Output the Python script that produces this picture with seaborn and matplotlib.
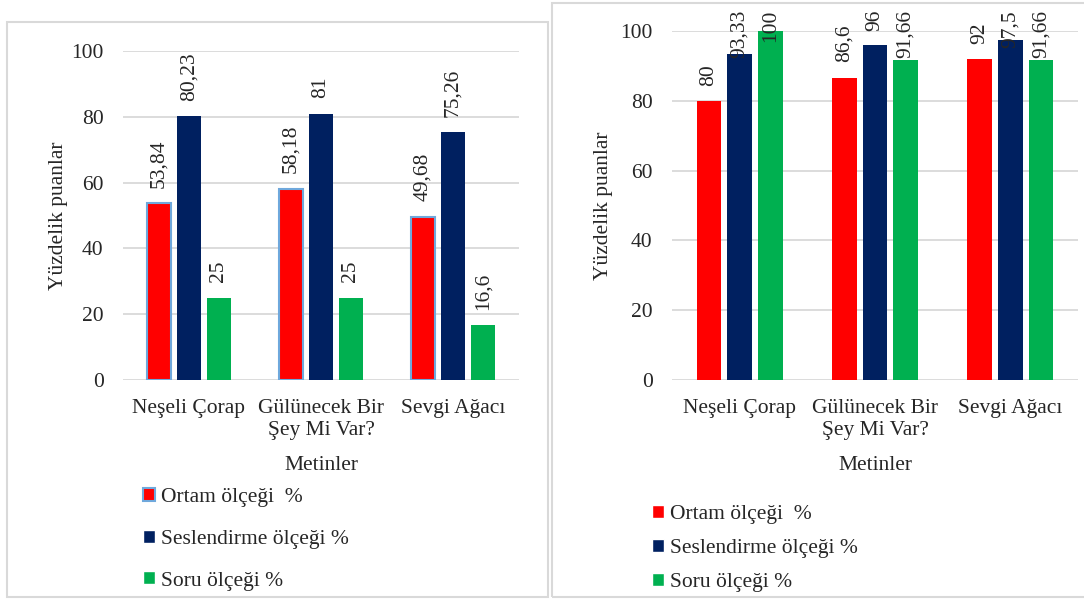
import matplotlib
matplotlib.use('Agg')
import matplotlib.pyplot as plt
from matplotlib.patches import Patch, Rectangle
import pandas as pd
import seaborn as sns

# categories and series
metinler = ['Neşeli Çorap', 'Gülünecek Bir\nŞey Mi Var?', 'Sevgi Ağacı']
olcekler = ['Ortam ölçeği  %', 'Seslendirme ölçeği %', 'Soru ölçeği %']
renkler = ['#FF0000', '#002060', '#00B050']

# left chart values
sol_ortam = [53.84, 58.18, 49.68]
sol_seslendirme = [80.23, 81, 75.26]
sol_soru = [25, 25, 16.6]

# right chart values
sag_ortam = [80, 86.6, 92]
sag_seslendirme = [93.33, 96, 97.5]
sag_soru = [100, 91.66, 91.66]

y_ticks = [0, 20, 40, 60, 80, 100]

sns.set_style('white')
plt.rcParams['font.family'] = ['Liberation Serif', 'DejaVu Serif']
FS = 15.5
GRID = '#D9D9D9'


def make_df(ortam, seslendirme, soru):
    rows = []
    for olcek, vals in zip(olcekler, [ortam, seslendirme, soru]):
        for m, v in zip(metinler, vals):
            rows.append({'Metin': m, 'Puan': v, 'Ölçek': olcek})
    return pd.DataFrame(rows)


def draw_panel(ax, df, red_edge, ylab_pad):
    sns.barplot(data=df, x='Metin', y='Puan', hue='Ölçek', hue_order=olcekler,
                palette=renkler, width=0.68, gap=0.2, linewidth=0,
                saturation=1, legend=False, ax=ax)
    ax.set_ylim(0, 100)
    ax.set_yticks(y_ticks)
    ax.yaxis.grid(True, color=GRID, lw=1.3)
    ax.set_axisbelow(True)
    for s in ax.spines.values():
        s.set_visible(False)
    ax.tick_params(axis='both', length=0, labelsize=FS)
    ax.tick_params(axis='y', pad=14)
    ax.tick_params(axis='x', pad=14)
    ax.set_xlabel('Metinler', fontsize=FS, labelpad=11)
    ax.set_ylabel('Yüzdelik puanlar', fontsize=FS, labelpad=ylab_pad)
    if red_edge:
        for bar in ax.containers[0]:
            bar.set_edgecolor('#6FA8DC')
            bar.set_linewidth(1.5)
    labels = []
    for cont in ax.containers:
        vals = cont.datavalues
        txt = [f'{v:g}'.replace('.', ',') for v in vals]
        labels += ax.bar_label(cont, labels=txt, padding=11, rotation=90,
                               fontsize=FS)
    return labels


fig = plt.figure(figsize=(10.84, 6.02), dpi=100)

# panel frames
fig.add_artist(Rectangle((7 / 1084, 5 / 602), 541 / 1084, 575 / 602,
                         transform=fig.transFigure, fill=False,
                         edgecolor=GRID, lw=1.5))
fig.add_artist(Rectangle((552 / 1084, 5 / 602), 540 / 1084, 594 / 602,
                         transform=fig.transFigure, fill=False,
                         edgecolor=GRID, lw=1.5))

ax1 = fig.add_axes([123 / 1084, 222 / 602, 396 / 1084, 329 / 602])
ax2 = fig.add_axes([672 / 1084, 222 / 602, 406 / 1084, 349 / 602])

draw_panel(ax1, make_df(sol_ortam, sol_seslendirme, sol_soru), True, 2)
lab2 = draw_panel(ax2, make_df(sag_ortam, sag_seslendirme, sag_soru), False, 5)

# keep labels inside the chart area like the original
fig.canvas.draw()
r = fig.canvas.get_renderer()
top_px = 602 - 10
for t in lab2:
    bb = t.get_window_extent(r)
    if bb.y1 > top_px:
        shift = (bb.y1 - top_px) * 72 / fig.dpi
        dx, dy = t.xyann
        t.xyann = (dx, dy - shift)

# legends
h1 = [Patch(facecolor=renkler[0], edgecolor='#6FA8DC', lw=1.5),
      Patch(facecolor=renkler[1]), Patch(facecolor=renkler[2])]
h2 = [Patch(facecolor=c) for c in renkler]
fig.legend(h1, olcekler, loc='upper left', bbox_to_anchor=(143 / 1084, 1 - 488 / 602),
           frameon=False, fontsize=FS, handlelength=0.55, handleheight=0.55,
           handletextpad=0.3, labelspacing=1.05, borderpad=0, borderaxespad=0)
fig.legend(h2, olcekler, loc='upper left', bbox_to_anchor=(652 / 1084, 1 - 505 / 602),
           frameon=False, fontsize=FS, handlelength=0.55, handleheight=0.55,
           handletextpad=0.3, labelspacing=0.7, borderpad=0, borderaxespad=0)

fig.savefig('out.png', dpi=100)
